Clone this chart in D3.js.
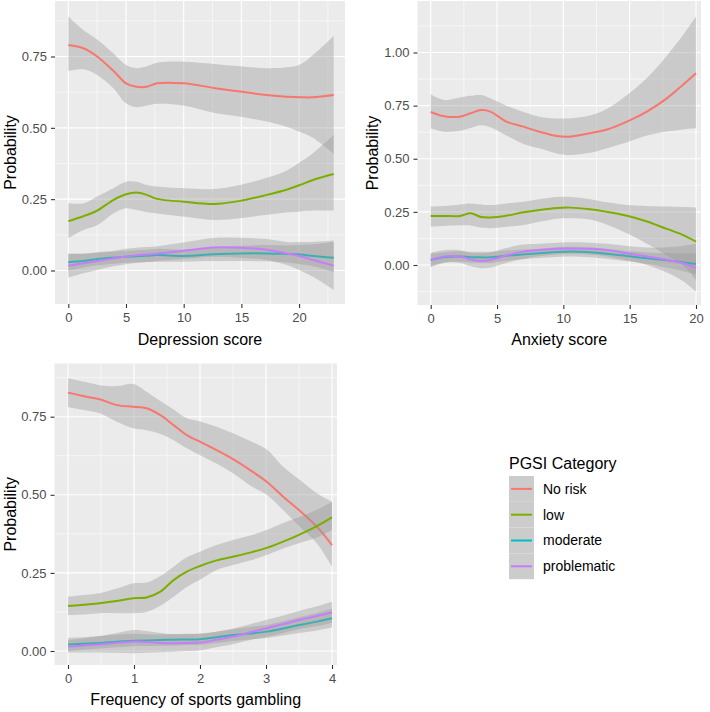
<!DOCTYPE html>
<html>
<head>
<meta charset="utf-8">
<script src="https://cdn.jsdelivr.net/npm/d3@7"></script>
<style>
    body { margin: 0; background: #fff; }
    svg text { font-family: "Liberation Sans", Arial, sans-serif; }
</style>
</head>
<body>
<svg id="chart" width="710" height="712"></svg>
<script>
// ---- data ----
const categories = ['No risk', 'low', 'moderate', 'problematic'];
const colors = ['#F8766D', '#7CAE00', '#00BFC4', '#C77CFF'];

// Depression score panel
const depX = [0, 1.3, 2.5, 3.9, 5, 5.9, 6.8, 7.7, 10, 12.6, 14.9, 17.2, 18.9, 20.1, 21.2, 23];
const depFit = [
    [0.79, 0.779, 0.75, 0.70, 0.656, 0.644, 0.644, 0.656, 0.656, 0.64, 0.627, 0.615, 0.609, 0.607, 0.607, 0.615],
    [0.173, 0.19, 0.21, 0.247, 0.267, 0.273, 0.265, 0.251, 0.241, 0.233, 0.244, 0.265, 0.283, 0.3, 0.317, 0.338],
    [0.029, 0.033, 0.04, 0.045, 0.048, 0.05, 0.052, 0.054, 0.051, 0.057, 0.06, 0.06, 0.058, 0.056, 0.051, 0.045],
    [0.017, 0.025, 0.033, 0.042, 0.049, 0.053, 0.056, 0.059, 0.069, 0.081, 0.08, 0.073, 0.06, 0.05, 0.037, 0.017]
];
const depLow = [
    [0.699, 0.705, 0.685, 0.639, 0.586, 0.572, 0.578, 0.584, 0.578, 0.553, 0.539, 0.522, 0.504, 0.485, 0.465, 0.408],
    [0.113, 0.142, 0.159, 0.2, 0.218, 0.212, 0.205, 0.2, 0.189, 0.177, 0.183, 0.195, 0.203, 0.207, 0.21, 0.21],
    [0.0, 0.01, 0.018, 0.024, 0.027, 0.029, 0.03, 0.031, 0.031, 0.033, 0.033, 0.032, 0.028, 0.022, 0.015, -0.005],
    [-0.025, -0.01, 0.002, 0.015, 0.022, 0.026, 0.03, 0.033, 0.04, 0.048, 0.045, 0.037, 0.02, 0.0, -0.022, -0.068]
];
const depHigh = [
    [0.89, 0.843, 0.81, 0.761, 0.72, 0.709, 0.716, 0.728, 0.732, 0.724, 0.716, 0.709, 0.712, 0.722, 0.755, 0.822],
    [0.236, 0.235, 0.259, 0.288, 0.311, 0.311, 0.3, 0.294, 0.288, 0.286, 0.3, 0.325, 0.35, 0.38, 0.411, 0.475],
    [0.058, 0.058, 0.062, 0.066, 0.069, 0.071, 0.073, 0.076, 0.073, 0.081, 0.087, 0.089, 0.088, 0.09, 0.092, 0.1],
    [0.06, 0.06, 0.064, 0.069, 0.076, 0.08, 0.082, 0.085, 0.098, 0.114, 0.115, 0.11, 0.1, 0.1, 0.1, 0.105]
];

// Anxiety score panel
const anxX = [0, 1, 2.2, 3, 3.8, 4.5, 5.7, 7, 8.2, 9.5, 10.5, 12, 13.3, 14.8, 16.3, 17.8, 19, 20];
const anxFit = [
    [0.72, 0.70, 0.698, 0.714, 0.729, 0.722, 0.675, 0.651, 0.627, 0.607, 0.604, 0.62, 0.638, 0.675, 0.722, 0.784, 0.847, 0.902],
    [0.231, 0.231, 0.231, 0.243, 0.226, 0.224, 0.232, 0.248, 0.259, 0.268, 0.27, 0.262, 0.25, 0.232, 0.205, 0.17, 0.142, 0.11],
    [0.024, 0.036, 0.04, 0.037, 0.036, 0.036, 0.044, 0.05, 0.055, 0.061, 0.063, 0.06, 0.053, 0.042, 0.032, 0.022, 0.013, 0.005],
    [0.024, 0.04, 0.04, 0.026, 0.02, 0.024, 0.045, 0.063, 0.071, 0.077, 0.078, 0.077, 0.07, 0.055, 0.04, 0.025, 0.008, -0.013]
];
const anxLow = [
    [0.643, 0.627, 0.632, 0.645, 0.658, 0.648, 0.61, 0.57, 0.549, 0.525, 0.518, 0.528, 0.55, 0.578, 0.61, 0.628, 0.638, 0.643],
    [0.18, 0.183, 0.187, 0.186, 0.176, 0.173, 0.18, 0.188, 0.203, 0.218, 0.22, 0.214, 0.19, 0.149, 0.1, 0.045, 0.0, -0.071],
    [-0.005, 0.012, 0.015, 0.012, 0.01, 0.01, 0.02, 0.027, 0.033, 0.038, 0.04, 0.037, 0.03, 0.018, 0.005, -0.012, -0.028, -0.045],
    [-0.01, 0.01, 0.01, -0.005, -0.015, -0.012, 0.01, 0.03, 0.042, 0.05, 0.052, 0.05, 0.04, 0.022, 0.0, -0.035, -0.075, -0.125]
];
const anxHigh = [
    [0.803, 0.776, 0.788, 0.796, 0.8, 0.785, 0.75, 0.72, 0.698, 0.69, 0.69, 0.703, 0.735, 0.8, 0.88, 0.985, 1.08, 1.169],
    [0.275, 0.278, 0.285, 0.29, 0.285, 0.282, 0.29, 0.298, 0.31, 0.32, 0.32, 0.31, 0.295, 0.282, 0.278, 0.275, 0.273, 0.271],
    [0.053, 0.06, 0.065, 0.062, 0.062, 0.062, 0.068, 0.073, 0.077, 0.084, 0.086, 0.083, 0.076, 0.066, 0.059, 0.056, 0.055, 0.055],
    [0.058, 0.07, 0.07, 0.058, 0.055, 0.06, 0.08, 0.096, 0.1, 0.105, 0.107, 0.105, 0.1, 0.09, 0.082, 0.083, 0.09, 0.1]
];

// Frequency of sports gambling panel
const freqX = [0, 0.28, 0.48, 0.74, 0.99, 1.19, 1.4, 1.6, 1.8, 2.0, 2.25, 2.5, 2.76, 3.01, 3.26, 3.5, 3.77, 4];
const freqFit = [
    [0.827, 0.814, 0.806, 0.787, 0.782, 0.777, 0.755, 0.723, 0.691, 0.67, 0.643, 0.614, 0.579, 0.542, 0.494, 0.451, 0.398, 0.339],
    [0.144, 0.149, 0.153, 0.16, 0.169, 0.171, 0.19, 0.227, 0.254, 0.272, 0.29, 0.302, 0.315, 0.33, 0.35, 0.372, 0.4, 0.428],
    [0.021, 0.024, 0.026, 0.03, 0.033, 0.034, 0.035, 0.036, 0.037, 0.038, 0.044, 0.051, 0.056, 0.062, 0.072, 0.083, 0.094, 0.105],
    [0.014, 0.018, 0.021, 0.026, 0.03, 0.029, 0.026, 0.025, 0.026, 0.027, 0.036, 0.046, 0.06, 0.073, 0.086, 0.099, 0.112, 0.124]
];
const freqLow = [
    [0.78, 0.77, 0.761, 0.734, 0.713, 0.707, 0.695, 0.675, 0.649, 0.627, 0.6, 0.569, 0.53, 0.5, 0.451, 0.4, 0.345, 0.27],
    [0.115, 0.118, 0.121, 0.121, 0.121, 0.125, 0.145, 0.174, 0.205, 0.228, 0.259, 0.275, 0.29, 0.307, 0.328, 0.345, 0.363, 0.387],
    [0.0, 0.005, 0.008, 0.012, 0.015, 0.016, 0.017, 0.018, 0.019, 0.02, 0.026, 0.032, 0.037, 0.042, 0.05, 0.058, 0.066, 0.075],
    [-0.005, -0.005, -0.005, -0.006, -0.007, -0.006, -0.004, -0.002, 0.0, 0.002, 0.012, 0.022, 0.035, 0.046, 0.058, 0.07, 0.08, 0.09]
];
const freqHigh = [
    [0.873, 0.86, 0.851, 0.848, 0.855, 0.83, 0.8, 0.773, 0.745, 0.735, 0.718, 0.697, 0.672, 0.645, 0.59, 0.55, 0.505, 0.478],
    [0.174, 0.18, 0.185, 0.2, 0.217, 0.219, 0.24, 0.27, 0.3, 0.318, 0.339, 0.355, 0.37, 0.387, 0.41, 0.428, 0.452, 0.478],
    [0.042, 0.045, 0.048, 0.052, 0.055, 0.054, 0.053, 0.054, 0.055, 0.056, 0.062, 0.07, 0.077, 0.083, 0.095, 0.108, 0.122, 0.135],
    [0.035, 0.042, 0.048, 0.058, 0.067, 0.064, 0.058, 0.054, 0.054, 0.055, 0.062, 0.072, 0.086, 0.1, 0.114, 0.128, 0.143, 0.158]
];

const depTicks = [0, 5, 10, 15, 20];
const anxTicks = [0, 5, 10, 15, 20];
const freqTicks = [0, 1, 2, 3, 4];
const probTicks = [0, 0.25, 0.5, 0.75];
const probTicksAnx = [0, 0.25, 0.5, 0.75, 1];

// ---- layout ----
const panels = [
    {
        id: 'dep', title: 'Depression score', xs: depX, fit: depFit, low: depLow, high: depHigh,
        rect: [55, 1, 345, 304], xDom: [0, 23], xRange: [68.3, 333.7], yRange: [270.5, 56.5], yDomMax: 0.75,
        xTicks: depTicks, xMinor: [2.5, 7.5, 12.5, 17.5, 22.5],
        yTicks: probTicks, yMinor: [-0.125, 0.125, 0.375, 0.625, 0.875], yLabX: 10, xTitleY: 345
    },
    {
        id: 'anx', title: 'Anxiety score', xs: anxX, fit: anxFit, low: anxLow, high: anxHigh,
        rect: [417.5, 1, 701, 305], xDom: [0, 20], xRange: [430.7, 696], yRange: [265, 52.5], yDomMax: 1,
        xTicks: anxTicks, xMinor: [2.5, 7.5, 12.5, 17.5],
        yTicks: probTicksAnx, yMinor: [-0.125, 0.125, 0.375, 0.625, 0.875, 1.125], yLabX: 372, xTitleY: 345
    },
    {
        id: 'freq', title: 'Frequency of sports gambling', xs: freqX, fit: freqFit, low: freqLow, high: freqHigh,
        rect: [54.5, 363.5, 337, 665], xDom: [0, 4], xRange: [68, 332], yRange: [651, 416.7], yDomMax: 0.75,
        xTicks: freqTicks, xMinor: [0.5, 1.5, 2.5, 3.5],
        yTicks: probTicks, yMinor: [0.125, 0.375, 0.625, 0.875], yLabX: 10, xTitleY: 705
    }
];

const svg = d3.select('#chart');

panels.forEach(p => {
    const [x0, y0, x1, y1] = p.rect;
    const x = d3.scaleLinear().domain(p.xDom).range(p.xRange);
    const y = d3.scaleLinear().domain([0, p.yDomMax]).range(p.yRange);

    const g = svg.append('g').attr('id', p.id);

    g.append('clipPath').attr('id', 'clip-' + p.id)
        .append('rect').attr('x', x0).attr('y', y0).attr('width', x1 - x0).attr('height', y1 - y0);

    g.append('rect')
        .attr('x', x0).attr('y', y0).attr('width', x1 - x0).attr('height', y1 - y0)
        .attr('fill', '#EBEBEB');

    const grid = g.append('g').attr('clip-path', 'url(#clip-' + p.id + ')');
    // minor grid
    grid.selectAll('.vminor').data(p.xMinor).enter().append('line')
        .attr('x1', d => x(d)).attr('x2', d => x(d)).attr('y1', y0).attr('y2', y1)
        .attr('stroke', '#fff').attr('stroke-width', 0.55);
    grid.selectAll('.hminor').data(p.yMinor).enter().append('line')
        .attr('y1', d => y(d)).attr('y2', d => y(d)).attr('x1', x0).attr('x2', x1)
        .attr('stroke', '#fff').attr('stroke-width', 0.55);
    // major grid
    grid.selectAll('.vmajor').data(p.xTicks).enter().append('line')
        .attr('x1', d => x(d)).attr('x2', d => x(d)).attr('y1', y0).attr('y2', y1)
        .attr('stroke', '#fff').attr('stroke-width', 1.1);
    grid.selectAll('.hmajor').data(p.yTicks).enter().append('line')
        .attr('y1', d => y(d)).attr('y2', d => y(d)).attr('x1', x0).attr('x2', x1)
        .attr('stroke', '#fff').attr('stroke-width', 1.1);

    const area = d3.area()
        .x(d => x(d.x)).y0(d => y(d.lo)).y1(d => y(d.hi))
        .curve(d3.curveCatmullRom.alpha(0.5));
    const line = d3.line()
        .x(d => x(d.x)).y(d => y(d.v))
        .curve(d3.curveCatmullRom.alpha(0.5));

    const marks = g.append('g').attr('clip-path', 'url(#clip-' + p.id + ')');
    categories.forEach((c, k) => {
        const pts = p.xs.map((xv, i) => ({x: xv, v: p.fit[k][i], lo: p.low[k][i], hi: p.high[k][i]}));
        marks.append('path').datum(pts)
            .attr('d', area)
            .attr('fill', '#999999').attr('fill-opacity', 0.4);
        marks.append('path').datum(pts)
            .attr('d', line)
            .attr('fill', 'none')
            .attr('stroke', colors[k]).attr('stroke-width', 2);
    });

    // axes
    const xAxis = g.append('g').attr('transform', 'translate(0,' + y1 + ')')
        .call(d3.axisBottom(x).tickValues(p.xTicks).tickSize(4).tickPadding(5).tickFormat(d3.format('d')));
    const yAxis = g.append('g').attr('transform', 'translate(' + x0 + ',0)')
        .call(d3.axisLeft(y).tickValues(p.yTicks).tickSize(4).tickPadding(4).tickFormat(d3.format('.2f')));
    [xAxis, yAxis].forEach(a => {
        a.select('.domain').remove();
        a.selectAll('.tick line').attr('stroke', '#333333').attr('stroke-width', 1.1);
        a.selectAll('.tick text')
            .attr('fill', '#4D4D4D')
            .style('font-size', '13px')
            .style('font-family', '"Liberation Sans", Arial, sans-serif');
    });

    g.append('text')
        .attr('x', (x0 + x1) / 2).attr('y', p.xTitleY)
        .attr('text-anchor', 'middle')
        .style('font-size', '16px').attr('fill', '#000')
        .text(p.title);

    g.append('text')
        .attr('transform', 'translate(' + (p.yLabX + 5.5) + ',' + ((y0 + y1) / 2) + ') rotate(-90)')
        .attr('text-anchor', 'middle')
        .style('font-size', '16px').attr('fill', '#000')
        .text('Probability');
});

// ---- legend ----
const legend = svg.append('g').attr('transform', 'translate(509,476)');
const keyW = 25, keyH = 25.8;
legend.append('text')
    .attr('x', 0).attr('y', -7)
    .style('font-size', '16px').attr('fill', '#000')
    .text('PGSI Category');
const keys = legend.selectAll('.key').data(categories).enter().append('g')
    .attr('transform', (d, i) => 'translate(0,' + (i * keyH) + ')');
keys.append('rect')
    .attr('width', keyW).attr('height', keyH)
    .attr('fill', '#CCCCCC');
keys.append('line')
    .attr('x1', 2).attr('x2', keyW - 2)
    .attr('y1', keyH / 2).attr('y2', keyH / 2)
    .attr('stroke', (d, i) => colors[i]).attr('stroke-width', 2);
keys.append('text')
    .attr('x', keyW + 9).attr('y', keyH / 2 + 5)
    .style('font-size', '14px').attr('fill', '#000')
    .text(d => d);
</script>
</body>
</html>
